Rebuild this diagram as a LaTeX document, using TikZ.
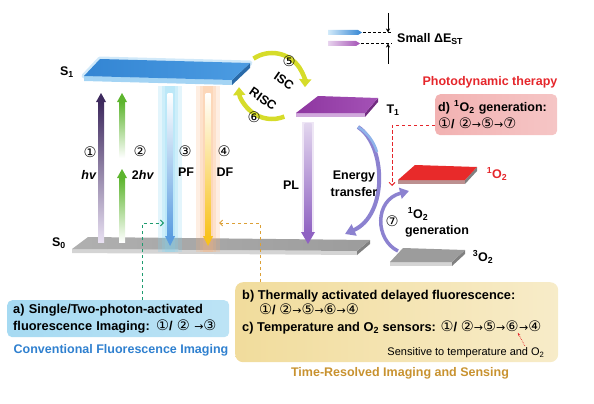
\documentclass[tikz,border=0pt]{standalone}
\usepackage{fontspec}
\setmainfont{Liberation Sans}
\newfontfamily\symfont{DejaVu Sans}
\usetikzlibrary{arrows.meta,calc,positioning}

\definecolor{sonetop}{HTML}{3385D3}
\definecolor{sonelow}{HTML}{4C9CE2}
\definecolor{soneedge}{HTML}{A4D4F4}
\definecolor{tonetop}{HTML}{8E36A0}
\definecolor{tonelow}{HTML}{A452B6}
\definecolor{toneedge}{HTML}{D0A8DC}
\definecolor{otop}{HTML}{E82A2A}
\definecolor{oedge}{HTML}{BC9090}
\definecolor{gtop}{HTML}{9C9C9C}
\definecolor{gedge}{HTML}{D4D4D4}
\definecolor{gside}{HTML}{808080}
\definecolor{hvdark}{HTML}{3E2A5E}
\definecolor{hvpale}{HTML}{E8E0F2}
\definecolor{twogreen}{HTML}{5DB52E}
\definecolor{pfblue}{HTML}{5B9DE0}
\definecolor{pfglow}{HTML}{7FD3F2}
\definecolor{dforange}{HTML}{F8C21C}
\definecolor{dfglow}{HTML}{F9B27A}
\definecolor{plpurple}{HTML}{8F62C2}
\definecolor{plpale}{HTML}{E2D6EE}
\definecolor{iscyellow}{HTML}{D6DC2A}
\definecolor{etcol}{HTML}{8C82D0}
\definecolor{etlight}{HTML}{8FB4EA}
\definecolor{ablue}{HTML}{A6DAF2}
\definecolor{convblue}{HTML}{2F80CF}
\definecolor{pdtred}{HTML}{E5262B}
\definecolor{dpink}{HTML}{F2B2B2}
\definecolor{bcyellow}{HTML}{F1DC9C}
\definecolor{trgold}{HTML}{C8922F}
\definecolor{greendash}{HTML}{1E9C70}
\definecolor{orangedash}{HTML}{DCA036}

\newcommand{\cn}[1]{{\symfont\mdseries\fontsize{14.5}{17}\selectfont #1}}
\newcommand{\nxt}{{\symfont\mdseries\fontsize{11}{17}\selectfont →}}

\tikzset{
  lbl/.style={font=\bfseries\fontsize{12.5}{17}\selectfont, inner sep=0pt},
  boxtxt/.style={font=\bfseries\fontsize{12.8}{17}\selectfont, inner sep=0pt, anchor=base west},
  dashcon/.style={line width=0.9pt, dash pattern=on 3.5pt off 2.5pt, -{Straight Barb[length=3pt,width=6pt]}},
  cyc/.style={line width=4.5pt, iscyellow, -{Triangle[length=8pt,width=12pt]}},
  glowbar/.style={fill=#1, opacity=0.22},
}

\begin{document}
\begin{tikzpicture}[x=1pt,y=-1pt]
\useasboundingbox (0,0) rectangle (594,404);

% ground state S0
\fill[gedge] (72,249) -- (357,251) -- (357,255) -- (72,253) -- cycle;
\fill[gside] (357,251) -- (370,240) -- (370,244) -- (357,255) -- cycle;
\shade[left color=gtop!80, right color=gtop] (88,237) -- (370,240) -- (357,251) -- (72,249) -- cycle;
\node[lbl] (szero) at (59,243) {S\textsubscript{0}};

% singlet S1
\draw[soneedge, line width=5pt, line join=round, opacity=0.5] (100,59) -- (250,63) -- (232,80) -- (84,76) -- cycle;
\fill[soneedge] (84,76) -- (232,80) -- (232,85) -- (84,81) -- cycle;
\fill[sonetop!80!black] (232,80) -- (250,63) -- (250,68) -- (232,85) -- cycle;
\shade[left color=sonetop, right color=sonelow] (100,59) -- (250,63) -- (232,80) -- (84,76) -- cycle;
\node[lbl] (sone) at (67,72) {S\textsubscript{1}};

% triplet T1
\fill[toneedge] (296,113) -- (365,113) -- (365,117) -- (296,117) -- cycle;
\fill[tonetop!80!black] (365,113) -- (378,98) -- (378,102) -- (365,117) -- cycle;
\shade[left color=tonetop, right color=tonelow] (318,96) -- (378,98) -- (365,113) -- (296,113) -- cycle;
\node[lbl] (tone) at (393,110) {T\textsubscript{1}};

% oxygen levels
\fill[oedge] (398,180) -- (465,180) -- (465,184) -- (398,184) -- cycle;
\fill[gside] (465,180) -- (477,167) -- (477,171) -- (465,184) -- cycle;
\fill[otop] (415,165) -- (477,167) -- (465,180) -- (398,180) -- cycle;
\node[lbl, text=pdtred] (singlet) at (497,174) {\textsuperscript{1}O\textsubscript{2}};
\fill[gedge] (390,262) -- (452,262) -- (452,266) -- (390,266) -- cycle;
\fill[gside] (452,262) -- (465,250) -- (465,254) -- (452,266) -- cycle;
\fill[gtop] (403,248) -- (465,250) -- (452,262) -- (390,262) -- cycle;
\node[lbl] (triplet) at (483,257) {\textsuperscript{3}O\textsubscript{2}};

% absorption 1 and 2
\shade[bottom color=hvpale, top color=hvdark] (98,242) rectangle (104,102);
\fill[hvdark] (96,102) -- (101,93) -- (106,102) -- cycle;
\shade[bottom color=white, top color=twogreen] (119,242) rectangle (125,178);
\fill[twogreen] (117,178) -- (122,169) -- (127,178) -- cycle;
\shade[bottom color=white, top color=twogreen] (119,158) rectangle (125,102);
\fill[twogreen] (117,102) -- (122,93) -- (127,102) -- cycle;

% prompt and delayed fluorescence
\foreach \w in {12,8,5} {
  \fill[glowbar=pfglow] (170-\w,86) rectangle (170+\w,252);
  \fill[glowbar=dfglow] (208-\w,86) rectangle (208+\w,252);
}
\shade[top color=white, bottom color=pfblue] (167.5,93) rectangle (172.5,236);
\fill[pfblue] (165,236) -- (175,236) -- (170,246) -- cycle;
\shade[top color=white, bottom color=dforange] (205.5,93) rectangle (210.5,236);
\fill[dforange] (203,236) -- (213,236) -- (208,246) -- cycle;

% phosphorescence
\fill[plpale, opacity=0.6] (302,122) rectangle (314,234);
\shade[top color=plpale, bottom color=plpurple] (304.5,123) rectangle (311.5,233);
\fill[plpurple] (301,232) -- (315,232) -- (308,244) -- cycle;

% ISC / RISC cycle
\coordinate (cyc) at (272,86);
\draw[cyc] ($(cyc)+(236:33)$) arc[start angle=236, end angle=362, radius=33];
\draw[cyc] ($(cyc)+(68:33)$) arc[start angle=68, end angle=178, radius=33];
\node[lbl] (n5) at (289,61) {\cn{⑤}};
\node[lbl, rotate=-35] (isc) at (284,81) {ISC};
\node[lbl, rotate=-35] (risc) at (263,99) {RISC};
\node[lbl] (n6) at (254,117) {\cn{⑥}};

% energy transfer to oxygen
\coordinate (etA) at (358,127);
\coordinate (etB) at (345,234);
\draw[etcol, line width=4pt, -{Triangle[length=10pt,width=12pt]}] (etA) .. controls (386,145) and (388,215) .. (etB);
\draw[etlight, line width=2.5pt] (etA) .. controls (368,133) and (374,142) .. (377,152);
\coordinate (oA) at (398,251);
\coordinate (oB) at (409,191);
\draw[etcol, line width=3.5pt, -{Triangle[length=9pt,width=11pt]}] (oA) .. controls (375,240) and (374,200) .. (oB);

% level labels
\node[lbl] (n1) at (90,152) {\cn{①}};
\node[lbl] (hv) at (89,175) {\textit{hv}};
\node[lbl] (n2) at (140,151) {\cn{②}};
\node[lbl] (twohv) at (143,175) {2\textit{hv}};
\node[lbl] (n3) at (185,151) {\cn{③}};
\node[lbl] (pf) at (186,172) {PF};
\node[lbl] (n4) at (224,151) {\cn{④}};
\node[lbl] (df) at (225,172) {DF};
\node[lbl] (pl) at (291,185) {PL};
\node[lbl, align=center] (et) at (354,184) {Energy\\transfer};
\node[lbl] (n7) at (392,221) {\cn{⑦}};
\node[lbl] (ogen) at (418,214) {\textsuperscript{1}O\textsubscript{2}};
\node[lbl] (gen) at (437,231) {generation};

% singlet-triplet gap legend
\shade[left color=soneedge!50, right color=sonetop] (328,30) -- (358,30) -- (362,32.5) -- (358,35) -- (328,35) -- cycle;
\shade[left color=toneedge!50, right color=tonelow] (328,41) -- (356,41) -- (360,43.5) -- (356,46) -- (328,46) -- cycle;
\coordinate (gapT) at (388,32.5);
\coordinate (gapB) at (388,43.5);
\draw[line width=0.9pt, dash pattern=on 3pt off 2pt] (363,32.5) -- (392,32.5);
\draw[line width=0.9pt, dash pattern=on 3pt off 2pt] (361,43.5) -- (392,43.5);
\draw[line width=0.6pt, -{Stealth[length=4pt,width=4pt]}] (388,13) -- (gapT);
\draw[line width=0.6pt, -{Stealth[length=4pt,width=4pt]}] (388,64) -- (gapB);
\node[lbl, anchor=west] (dest) at (397,39) {Small ΔE\textsubscript{ST}};

% photodynamic therapy
\node[lbl, text=pdtred] (pdt) at (490,82) {Photodynamic therapy};
\node[lbl, left color=dpink, right color=dpink!75, rounded corners=5pt, anchor=north west,
      text width=116pt, inner xsep=3pt, minimum height=41pt, align=left] (dbox) at (435,94)
      {d) \textsuperscript{1}O\textsubscript{2} generation:\\\cn{①}/ \cn{②}\nxt\cn{⑤}\nxt\cn{⑦}};
\coordinate (oin) at (392,186);
\draw[dashcon, pdtred] ($(dbox.west)+(0,10.5)$) -| (oin);

% conventional imaging
\node[boxtxt, anchor=north west, left color=ablue, right color=ablue!75, rounded corners=5pt,
      text width=210pt, inner xsep=6pt, minimum height=37pt, align=left] (abox) at (7,300)
      {a) Single/Two-photon-activated\\fluorescence Imaging: \cn{①}/ \cn{②} \nxt\cn{③}};
\node[lbl, text=convblue] (conv) at (121,350) {Conventional Fluorescence Imaging};
\coordinate (pfin) at (164,223);
\draw[dashcon, greendash] ($(abox.north west)!0.61!(abox.north east)$) |- (pfin);

% time-resolved imaging and sensing
\node[left color=bcyellow, right color=bcyellow!55, rounded corners=8pt, anchor=north west,
      minimum width=323pt, minimum height=80pt] (bcbox) at (235,282) {};
\node[boxtxt] (bline) at (242,299.5) {b) Thermally activated delayed fluorescence:};
\node[boxtxt] (bseq) at (259,314.5) {\cn{①}/ \cn{②}\nxt\cn{⑤}\nxt\cn{⑥}\nxt\cn{④}};
\node[boxtxt] (cline) at (242,331.5) {c) Temperature and O\textsubscript{2} sensors: \cn{①}/ \cn{②}\nxt\cn{⑤}\nxt};
\node[boxtxt] (csix) at (cline.base east) {\cn{⑥}};
\node[boxtxt] (ctail) at (csix.base east) {\nxt\cn{④}};
\node[inner sep=0pt, font=\fontsize{11}{13}\selectfont] (sens) at (466,353) {Sensitive to temperature and O\textsubscript{2}};
\draw[pdtred, densely dotted, line width=0.7pt, -{Stealth[length=3pt]}] ($(csix.south east)+(6,14)$) -- ($(csix.south east)+(-1,1)$);
\node[lbl, text=trgold] (trs) at (400,373) {Time-Resolved Imaging and Sensing};
\coordinate (dfin) at (219,223);
\draw[dashcon, orangedash] ($(bcbox.north west)+(25,0)$) |- (dfin);
\end{tikzpicture}
\end{document}
